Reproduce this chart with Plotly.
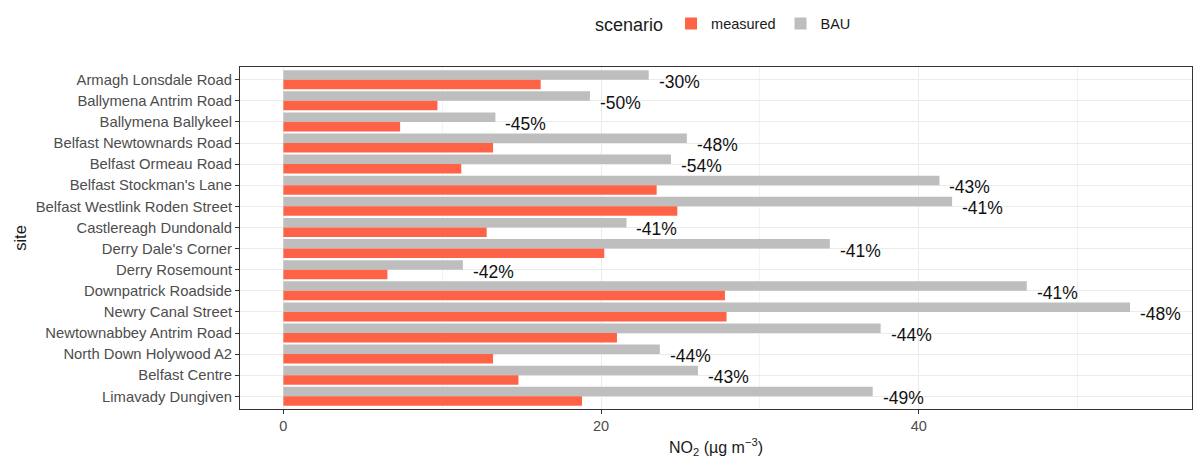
import plotly.graph_objects as go

# NO2 concentrations per monitoring site (µg m-3)
sites = [
    "Armagh Lonsdale Road",
    "Ballymena Antrim Road",
    "Ballymena Ballykeel",
    "Belfast Newtownards Road",
    "Belfast Ormeau Road",
    "Belfast Stockman's Lane",
    "Belfast Westlink Roden Street",
    "Castlereagh Dundonald",
    "Derry Dale's Corner",
    "Derry Rosemount",
    "Downpatrick Roadside",
    "Newry Canal Street",
    "Newtownabbey Antrim Road",
    "North Down Holywood A2",
    "Belfast Centre",
    "Limavady Dungiven",
]
measured = [16.2, 9.7, 7.35, 13.2, 11.2, 23.5, 24.8, 12.8, 20.2, 6.55,
            27.8, 27.9, 21.0, 13.2, 14.8, 18.8]
bau = [23.0, 19.3, 13.35, 25.4, 24.4, 41.3, 42.1, 21.6, 34.4, 11.3,
       46.8, 53.3, 37.6, 23.7, 26.1, 37.1]

# relative change of measured vs business-as-usual, in percent
change = [round((m / b - 1) * 100) for m, b in zip(measured, bau)]

FONT = "Liberation Sans, Arial, Helvetica, sans-serif"
TOMATO = "#FF6347"
GREY = "#BEBEBE"

fig = go.Figure()
fig.add_trace(go.Bar(
    y=sites, x=bau, orientation="h", name="BAU",
    marker=dict(color=GREY, line=dict(width=0)), legendrank=2,
))
fig.add_trace(go.Bar(
    y=sites, x=measured, orientation="h", name="measured",
    marker=dict(color=TOMATO, line=dict(width=0)), legendrank=1,
))

for s, b, c in zip(sites, bau, change):
    fig.add_annotation(
        x=b, y=s, xref="x", yref="y", text=f"{c}%", showarrow=False,
        xanchor="left", yanchor="middle", xshift=8, yshift=-2,
        font=dict(family=FONT, size=17.5, color="#111111"),
    )

fig.update_layout(
    width=1194, height=458,
    margin=dict(l=240, r=2, t=67, b=49),
    paper_bgcolor="white", plot_bgcolor="white",
    barmode="group", bargap=0.1, bargroupgap=0,
    font=dict(family=FONT, color="#1a1a1a"),
    showlegend=True,
    legend=dict(
        orientation="h", xref="container", yref="container",
        x=593 / 1194, xanchor="left", y=1 - 24.5 / 458, yanchor="middle",
        title=dict(text="scenario", font=dict(size=18, color="#1a1a1a"), side="left"),
        font=dict(size=14.5, color="#1a1a1a"),
        itemwidth=30, bgcolor="rgba(0,0,0,0)",
    ),
)

fig.update_xaxes(
    range=[-2.73, 57.2], tickvals=[0, 20, 40], ticktext=["0", "20", "40"],
    ticks="outside", ticklen=4, tickcolor="#333333", tickwidth=1,
    tickfont=dict(size=14.5, color="#4d4d4d"),
    showgrid=True, gridcolor="#ebebeb", gridwidth=1.1,
    minor=dict(tickvals=[10, 30, 50], showgrid=True, gridcolor="#f2f2f2", gridwidth=0.6, ticks=""),
    zeroline=False,
    showline=True, mirror=True, linecolor="#333333", linewidth=1,
    title=dict(text="NO<sub>2</sub> (µg m<sup>−3</sup>)", font=dict(size=16, color="#1a1a1a"), standoff=8),
)
fig.update_yaxes(
    type="category", categoryorder="array", categoryarray=sites,
    range=[len(sites) - 0.4, -0.6],
    ticks="outside", ticklen=4, tickcolor="#333333", tickwidth=1,
    tickfont=dict(size=14.8, color="#4d4d4d"),
    showgrid=True, gridcolor="#ebebeb", gridwidth=1.1,
    zeroline=False,
    showline=True, mirror=True, linecolor="#333333", linewidth=1,
    title=dict(text="site", font=dict(size=16.5, color="#1a1a1a"), standoff=4),
)

fig.write_html("out.html")
